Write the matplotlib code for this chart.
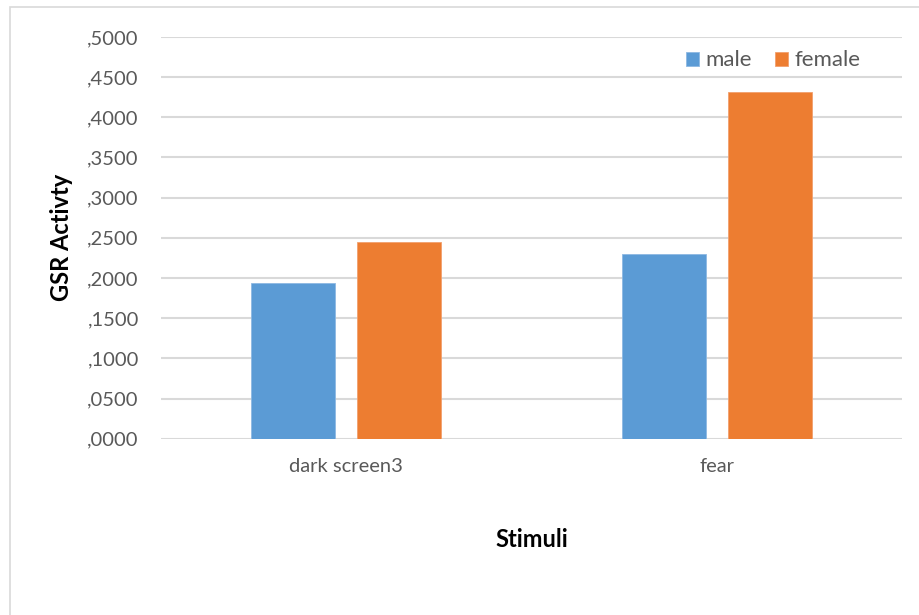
import matplotlib
matplotlib.use("Agg")
import matplotlib.pyplot as plt
from matplotlib.patches import Rectangle
import numpy as np

categories = ["dark screen3", "fear"]
series_names = ["male", "female"]
male_values = [0.1937, 0.2303]
female_values = [0.2448, 0.4312]
tick_values = [0.0, 0.05, 0.10, 0.15, 0.20, 0.25, 0.30, 0.35, 0.40, 0.45, 0.50]
tick_labels = [",0000", ",0500", ",1000", ",1500", ",2000", ",2500",
               ",3000", ",3500", ",4000", ",4500", ",5000"]

plt.rcParams["font.family"] = ["Lato", "DejaVu Sans"]

BLUE = "#5B9BD5"
ORANGE = "#ED7D31"
TEXT = "#595959"
GRID = "#D9D9D9"

fig = plt.figure(figsize=(9.19, 6.15), dpi=100)
fig.patch.set_facecolor("white")

# outer chart frame (extends past the right and bottom edges)
fig.add_artist(Rectangle((10 / 919, -0.05), 1.2, 1 - 7 / 615 + 0.05,
                         transform=fig.transFigure, fill=False,
                         edgecolor="#D9D9D9", linewidth=1.2))

ax = fig.add_axes([0.1752, 0.2865, 0.8063, 0.6535])

x = np.arange(len(categories))
width = 0.227
offset = 0.143
ax.bar(x - offset, male_values, width, color=BLUE, edgecolor="#8DB8E3",
       linewidth=0.6, label=series_names[0], zorder=3)
ax.bar(x + offset, female_values, width, color=ORANGE, edgecolor="#F2A06E",
       linewidth=0.6, label=series_names[1], zorder=3)

ax.set_xlim(-0.5, 1.5)
ax.set_ylim(0, 0.5)
ax.set_yticks(tick_values)
ax.set_yticklabels(tick_labels)
ax.set_xticks(x)
ax.set_xticklabels(categories)

for s in ax.spines.values():
    s.set_visible(False)
ax.yaxis.grid(True, color=GRID, linewidth=1.5, zorder=0)
ax.set_axisbelow(True)
ax.tick_params(axis="both", length=0, labelsize=14.5, colors=TEXT)
ax.tick_params(axis="y", pad=16)
ax.tick_params(axis="x", pad=14)

ax.set_ylabel("GSR Activty", fontsize=17, fontweight="bold", color="black",
              labelpad=10)
ax.set_xlabel("Stimuli", fontsize=17, fontweight="bold", color="black",
              labelpad=38)

leg = ax.legend(loc="upper right", bbox_to_anchor=(0.965, 1.005), ncol=2,
                frameon=False, fontsize=16, handlelength=0.6,
                handleheight=0.6, handletextpad=0.3, columnspacing=1.0,
                borderaxespad=0.3)
for t in leg.get_texts():
    t.set_color(TEXT)

fig.savefig("out.png", dpi=100, facecolor="white")
